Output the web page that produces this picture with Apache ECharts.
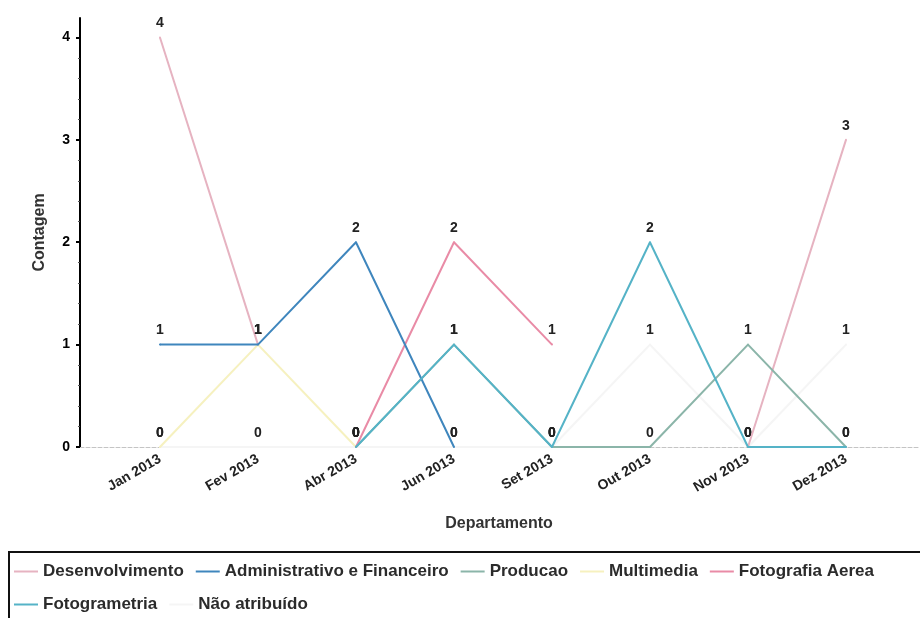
<!DOCTYPE html>
<html>
<head>
<meta charset="utf-8">
<title>Contagem por Departamento</title>
<script src="https://cdn.jsdelivr.net/npm/echarts@6/dist/echarts.min.js"></script>
<style>
  html, body { margin: 0; padding: 0; background: #fff; }
  #chart { width: 920px; height: 618px; }
</style>
</head>
<body>
<div id="chart"></div>
<script>
// Months on the horizontal axis
const months = ['Jan 2013', 'Fev 2013', 'Abr 2013', 'Jun 2013', 'Set 2013', 'Out 2013', 'Nov 2013', 'Dez 2013'];

// Counts per series (null = no record for that month)
const desenvolvimento  = [4, 1, null, null, null, null, 0, 3];
const administrativo   = [1, 1, 2, 0, null, null, null, null];
const producao         = [null, null, 0, 1, 0, 0, 1, 0];
const multimedia       = [0, 1, 0, null, null, null, null, null];
const fotografiaAerea  = [null, null, 0, 2, 1, null, null, null];
const fotogrametria    = [null, null, 0, 1, 0, 2, 0, 0];
const naoAtribuido     = [0, 0, 0, 0, 0, 1, 0, 1];

const yTicks = [0, 1, 2, 3, 4];

const FONT = '"Liberation Sans", Arial, sans-serif';

function pairs(values) {
  return values.map((v, i) => [i, v]);
}

function lineSeries(name, values, color, z) {
  return {
    name: name,
    type: 'line',
    data: pairs(values),
    connectNulls: false,
    symbol: 'circle',
    symbolSize: 2,
    z: z,
    lineStyle: { color: color, width: 2 },
    itemStyle: { color: color },
    label: {
      show: true,
      position: 'top',
      distance: 6,
      color: '#222',
      fontFamily: FONT,
      fontWeight: 'bold',
      fontSize: 14,
      formatter: p => p.value[1]
    },
    emphasis: { disabled: true }
  };
}

const chart = echarts.init(document.getElementById('chart'), null, { renderer: 'canvas' });

chart.setOption({
  animation: false,
  backgroundColor: '#ffffff',
  textStyle: { fontFamily: FONT },
  grid: { left: 80, right: 2, top: 18, bottom: 171, containLabel: false },
  xAxis: {
    type: 'value',
    min: -0.816,
    max: 7.735,
    name: 'Departamento',
    nameLocation: 'middle',
    nameGap: 69,
    nameTextStyle: { color: '#333', fontSize: 16, fontWeight: 'bold', fontFamily: FONT },
    axisLine: { show: true, onZero: false, lineStyle: { color: '#c4c4c4', width: 1, type: 'dashed' } },
    axisTick: { show: false },
    splitLine: { show: false },
    axisLabel: {
      customValues: months.map((m, i) => i),
      formatter: v => months[v] || '',
      rotate: 30,
      margin: 11,
      color: '#222',
      fontSize: 14,
      fontWeight: 'bold',
      fontFamily: FONT
    }
  },
  yAxis: {
    type: 'value',
    min: 0,
    max: 4.19,
    name: 'Contagem',
    nameLocation: 'middle',
    nameGap: 32,
    nameTextStyle: { color: '#333', fontSize: 16, fontWeight: 'bold', fontFamily: FONT },
    axisLine: { show: true, onZero: false, lineStyle: { color: '#000', width: 2 } },
    axisTick: { show: true, length: 4, customValues: yTicks, lineStyle: { color: '#000', width: 2 } },
    minorTick: { show: true, splitNumber: 5, length: 2, lineStyle: { color: '#555', width: 1 } },
    splitLine: { show: false },
    minorSplitLine: { show: false },
    axisLabel: {
      customValues: yTicks,
      margin: 10,
      color: '#000',
      fontSize: 14,
      fontWeight: 'bold',
      fontFamily: FONT
    }
  },
  legend: {
    left: 14,
    top: 561,
    width: 890,
    padding: 0,
    itemGap: 12,
    itemWidth: 24,
    itemHeight: 2,
    icon: 'rect',
    textStyle: { color: '#2b2b2b', fontSize: 17, fontWeight: 'bold', fontFamily: FONT, lineHeight: 21 },
    data: ['Desenvolvimento', 'Administrativo e Financeiro', 'Producao', 'Multimedia',
           'Fotografia Aerea', 'Fotogrametria', 'Não atribuído']
  },
  graphic: [{
    type: 'rect',
    shape: { x: 9, y: 552, width: 930, height: 90 },
    style: { fill: 'none', stroke: '#111', lineWidth: 2 },
    silent: true
  }],
  series: [
    lineSeries('Desenvolvimento', desenvolvimento, '#e6b3c1', 3),
    lineSeries('Administrativo e Financeiro', administrativo, '#3f86bd', 4),
    lineSeries('Producao', producao, '#8bb5a9', 3),
    lineSeries('Multimedia', multimedia, '#f6f1bf', 2),
    lineSeries('Fotografia Aerea', fotografiaAerea, '#e98ba6', 3),
    lineSeries('Fotogrametria', fotogrametria, '#55b3c7', 4),
    lineSeries('Não atribuído', naoAtribuido, '#f5f5f5', 1)
  ]
});
</script>
</body>
</html>
